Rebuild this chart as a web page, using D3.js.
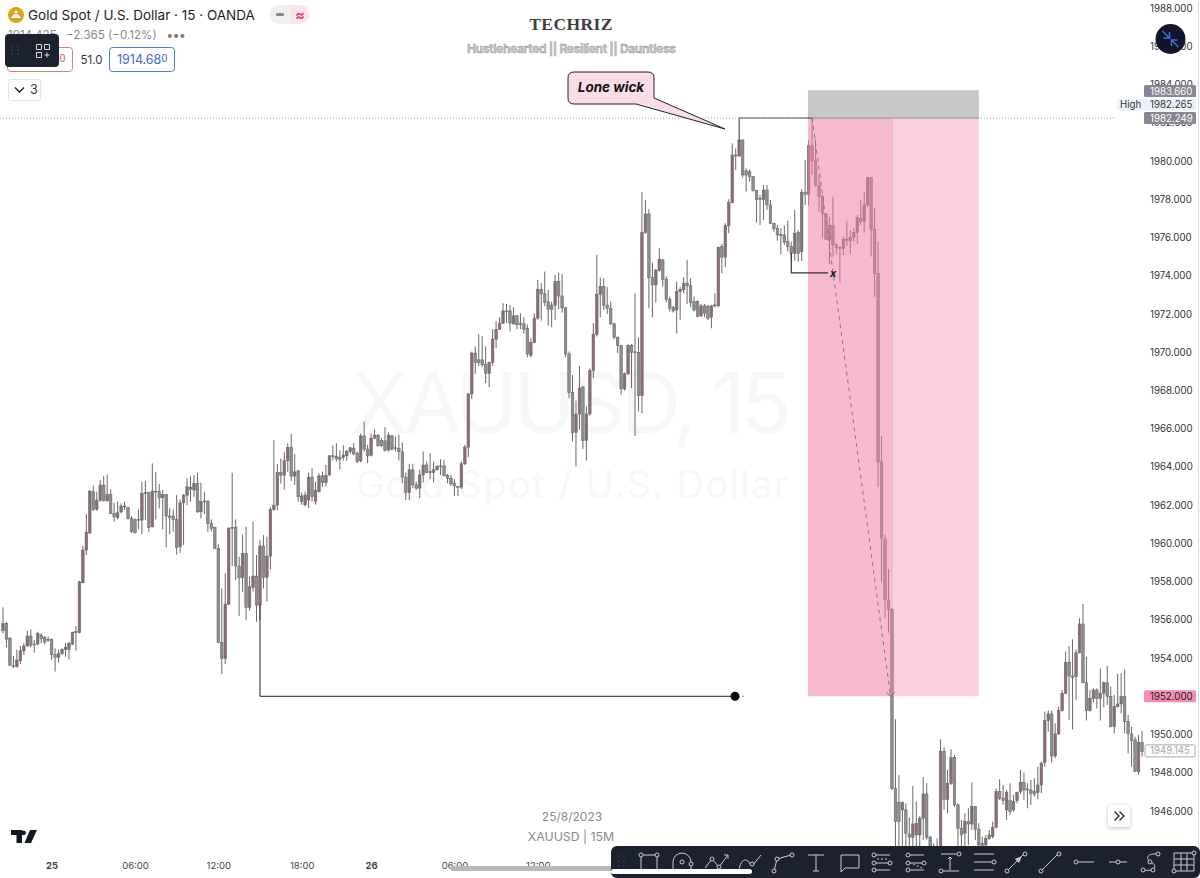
<!DOCTYPE html>
<html>
<head>
<meta charset="utf-8">
<title>XAUUSD 15M</title>
<script src="https://cdn.jsdelivr.net/npm/d3@7"></script>
<style>
  html, body { margin: 0; padding: 0; background: #fff; }
  svg { display: block; font-family: Inter, "Noto Sans", sans-serif; }
  .tick text { font-family: Inter, "Noto Sans", sans-serif; }
</style>
</head>
<body>
<div id="app"></div>
<script>
// open, high, low, close per 15 minute bar
const rallyOpen = [
  [1955.43,1956.65,1955.29,1955.81],[1955.81,1955.90,1954.56,1954.99],[1955.03,1955.12,1953.58,1953.63],[1953.60,1954.11,1953.48,1953.55],
  [1953.55,1954.45,1953.51,1953.90],[1953.86,1954.63,1953.69,1954.38],[1954.38,1954.77,1954.16,1954.63],[1954.63,1955.43,1954.59,1955.15],
  [1955.15,1955.50,1954.56,1954.68],[1954.73,1954.94,1954.28,1954.70],[1954.73,1955.38,1954.66,1955.29],[1955.20,1955.29,1954.77,1955.01],
  [1955.08,1955.15,1954.73,1954.84],[1954.98,1955.12,1954.85,1954.91],[1954.98,1955.03,1953.90,1954.18],[1954.18,1954.51,1953.29,1954.04],
  [1954.04,1954.45,1953.76,1954.24],[1954.24,1954.51,1954.16,1954.45],[1954.45,1954.80,1954.07,1954.56],[1954.45,1954.85,1953.93,1954.77],
  [1954.73,1955.38,1954.68,1955.34],[1955.38,1955.67,1954.38,1955.34],[1955.33,1958.03,1955.29,1957.99],[1957.94,1959.86,1957.91,1959.65],
  [1959.65,1961.53,1959.39,1960.59],[1960.55,1962.79,1960.48,1962.73],[1962.70,1963.01,1961.70,1961.77],[1961.79,1962.70,1961.70,1962.26],
  [1962.26,1963.31,1962.18,1963.05],[1963.05,1963.52,1962.18,1962.23],[1962.23,1963.60,1962.18,1962.56],[1962.56,1962.82,1961.53,1961.57],
  [1961.57,1962.12,1961.13,1961.39],[1961.36,1962.18,1961.25,1961.60],[1961.64,1962.09,1961.57,1961.95],[1961.95,1962.18,1961.74,1961.91],
  [1961.88,1961.91,1961.25,1961.29],[1961.30,1961.43,1960.55,1960.61],[1961.25,1961.30,1960.52,1960.55],[1961.22,1961.77,1960.73,1961.25],
  [1961.22,1963.22,1960.48,1962.61],[1962.61,1963.27,1961.22,1962.65],[1962.65,1962.70,1960.61,1960.83],[1960.87,1964.18,1960.83,1962.73],
  [1962.73,1963.74,1961.25,1962.70],[1962.70,1963.10,1961.83,1962.38],[1962.40,1962.79,1960.73,1962.56],[1962.56,1962.58,1959.79,1961.43],
  [1961.43,1961.83,1960.48,1961.36],[1961.43,1961.77,1960.61,1961.25],[1961.25,1962.52,1959.42,1959.79],[1959.82,1962.30,1959.51,1962.12],
  [1962.12,1962.58,1959.91,1962.52],[1962.52,1963.40,1962.00,1962.96],[1962.92,1963.52,1962.18,1962.82],[1962.79,1963.57,1962.44,1963.13],
  [1963.13,1963.69,1961.60,1961.65],[1961.65,1963.17,1961.30,1962.18],[1962.21,1962.70,1961.53,1962.18],[1962.21,1962.26,1960.61,1961.04],
  [1961.04,1961.25,1960.61,1960.78],[1960.83,1960.87,1959.70,1959.74],[1959.74,1959.96,1954.77,1954.82],[1954.82,1957.64,1953.16,1953.98],
  [1953.98,1958.43,1953.69,1956.82],[1956.82,1960.83,1956.77,1960.80],[1960.83,1963.69,1958.81,1960.78],[1960.83,1961.25,1958.08,1958.81],
  [1958.81,1959.30,1956.20,1958.20],[1958.22,1960.47,1957.47,1959.47],[1959.47,1960.87,1955.99,1956.65],[1956.65,1958.25,1956.48,1957.73],
  [1957.70,1961.13,1957.47,1958.29],[1958.29,1959.39,1955.90,1956.77],[1956.77,1960.17,1955.99,1959.86],[1959.86,1960.43,1957.64,1958.22],
  [1958.22,1960.35,1956.95,1959.33],[1959.33,1961.91,1958.64,1961.77],[1961.77,1965.41,1961.70,1962.00],[1962.00,1964.15,1961.74,1963.71],
  [1963.71,1964.44,1963.13,1963.57],[1963.57,1964.79,1962.82,1964.32],[1964.32,1965.23,1963.74,1965.02],[1965.02,1965.72,1963.27,1963.52],
  [1963.52,1964.67,1963.05,1963.74],[1963.80,1963.83,1962.18,1962.44]
];

const rallyMiddle = [
  [1962.19,1962.66,1962.02,1962.48],[1962.02,1962.71,1961.93,1962.53],[1962.27,1963.70,1961.84,1963.46],[1963.46,1963.93,1962.19,1962.45],
  [1962.19,1963.23,1962.02,1962.76],[1962.71,1963.67,1962.66,1963.53],[1963.53,1963.75,1962.94,1963.18],[1963.18,1964.10,1962.97,1963.55],
  [1963.58,1964.61,1963.53,1964.58],[1964.58,1965.12,1964.33,1964.54],[1964.54,1965.24,1964.28,1964.42],[1964.49,1964.86,1963.88,1964.40],
  [1964.51,1965.13,1964.33,1964.61],[1964.58,1964.89,1964.32,1964.80],[1964.80,1965.03,1964.68,1965.00],[1964.98,1965.24,1964.61,1964.68],
  [1964.72,1964.80,1964.19,1964.28],[1964.32,1965.76,1964.23,1965.62],[1965.62,1966.37,1964.80,1964.93],[1964.93,1965.15,1964.19,1964.58],
  [1964.61,1965.76,1964.54,1965.50],[1965.50,1965.97,1965.45,1965.66],[1965.66,1965.71,1965.07,1965.10],[1965.38,1965.50,1965.03,1965.12],
  [1965.36,1966.08,1964.80,1964.86],[1964.89,1965.80,1964.80,1965.66],[1965.62,1965.68,1964.86,1964.93],[1965.00,1965.59,1964.80,1964.96],
  [1964.96,1965.68,1964.33,1964.80],[1964.79,1965.27,1963.15,1963.46],[1963.46,1963.70,1962.27,1962.66],[1962.66,1964.16,1962.27,1963.85],
  [1963.85,1964.16,1962.89,1963.06],[1963.06,1963.23,1962.80,1962.89],[1962.89,1963.85,1962.36,1963.58],[1963.58,1964.80,1963.18,1964.10],
  [1964.10,1964.28,1963.67,1963.70],[1963.76,1964.72,1963.36,1963.70],[1963.70,1964.28,1963.18,1963.85],[1963.85,1964.10,1963.81,1964.02],
  [1964.05,1964.40,1963.58,1964.02],[1964.05,1964.37,1963.50,1963.53],[1963.56,1963.63,1963.15,1963.41],[1963.41,1963.58,1963.01,1963.11],
  [1963.15,1963.36,1962.48,1963.01],[1962.97,1962.97,1962.48,1962.94],[1962.94,1964.28,1962.84,1964.16],[1964.16,1965.15,1964.10,1965.03],
  [1965.03,1967.85,1964.51,1967.82],[1967.82,1970.03,1967.54,1969.95],[1969.95,1970.30,1968.87,1969.46],[1969.60,1970.94,1969.28,1969.46],
  [1969.60,1970.85,1969.21,1969.34],[1969.37,1970.30,1968.38,1968.90],[1968.90,1969.51,1968.17,1969.46],[1969.46,1971.20,1969.28,1970.68],
  [1970.68,1971.62,1970.21,1971.20],[1971.20,1971.83,1971.17,1971.52],[1971.52,1972.56,1971.48,1972.16],[1972.16,1972.53,1971.52,1972.13],
  [1972.16,1972.47,1971.08,1971.52],[1971.48,1972.35,1971.45,1971.90],[1971.90,1971.95,1971.20,1971.43],[1971.52,1972.04,1971.20,1971.45],
  [1971.48,1971.83,1970.96,1971.20],[1971.25,1971.45,1969.74,1969.91],[1969.84,1970.73,1969.74,1970.50],[1970.50,1972.04,1970.47,1971.78],
  [1971.78,1973.78,1971.69,1973.29],[1973.29,1973.61,1971.65,1973.05],[1973.05,1974.22,1972.42,1972.61],[1972.63,1973.26,1971.39,1972.25],
  [1972.46,1972.65,1971.31,1972.25],[1972.46,1974.04,1971.69,1973.69],[1973.69,1974.16,1972.25,1972.94]
];

const rallyTop = [
  [1972.94,1974.09,1972.07,1972.32],[1972.32,1972.35,1969.74,1969.91],[1969.91,1970.03,1967.59,1967.89],[1967.89,1968.81,1965.33,1965.81],
  [1965.81,1967.47,1964.02,1966.76],[1966.76,1969.28,1965.94,1968.12],[1968.17,1968.24,1964.93,1965.38],[1965.38,1967.16,1964.33,1966.77],
  [1966.77,1969.16,1966.67,1969.04],[1969.04,1971.52,1968.64,1970.94],[1970.94,1975.09,1970.82,1973.03],[1973.03,1973.90,1971.83,1973.43],
  [1973.43,1973.87,1972.21,1972.46],[1972.46,1973.40,1972.00,1972.30],[1972.30,1972.65,1971.43,1971.48],[1971.48,1971.55,1970.68,1970.78],
  [1970.78,1970.82,1969.95,1970.36],[1970.35,1970.38,1967.77,1968.08],[1968.08,1968.94,1967.99,1968.87],[1968.87,1970.43,1968.81,1970.35],
  [1970.35,1970.43,1968.12,1969.98],[1970.02,1973.08,1965.62,1969.98],[1969.98,1970.78,1966.90,1967.73],[1967.73,1978.38,1966.81,1976.26],
  [1976.26,1977.96,1976.19,1977.23],[1977.23,1977.48,1972.30,1973.90],[1973.90,1974.69,1971.83,1973.52],[1973.52,1974.34,1972.60,1974.30],
  [1974.27,1975.44,1974.22,1974.86],[1974.83,1974.86,1973.43,1973.82],[1973.82,1973.96,1972.60,1972.77],[1972.77,1972.91,1972.12,1972.30],
  [1972.35,1972.42,1972.07,1972.16],[1972.21,1973.69,1970.99,1973.17],[1973.17,1973.40,1971.69,1973.29],[1973.26,1973.92,1973.08,1973.61],
  [1973.61,1974.83,1972.53,1973.47],[1973.47,1973.87,1972.35,1972.60],[1972.65,1972.91,1972.12,1972.21],[1972.65,1972.70,1971.83,1971.86],
  [1971.90,1972.53,1971.83,1972.42],[1972.42,1972.53,1971.83,1972.04],[1972.39,1972.47,1971.69,1971.78],[1971.83,1972.46,1971.25,1972.42],
  [1972.42,1973.08,1972.35,1972.47],[1972.42,1975.52,1972.35,1975.49],[1975.52,1975.66,1974.13,1974.97],[1974.97,1976.74,1974.44,1976.62],
  [1976.62,1978.00,1976.22,1977.82]
];

const sweepAndDrop = [
  [1977.82,1980.92,1977.79,1980.31],[1980.31,1980.66,1979.53,1980.26],[1980.26,1981.10,1980.22,1981.10],[1981.10,1981.13,1979.14,1979.27],
  [1979.49,1979.62,1978.40,1979.27],[1979.44,1979.56,1978.92,1979.18],[1979.18,1979.21,1978.40,1978.45],[1978.45,1978.48,1976.77,1977.99],
  [1978.05,1978.22,1976.65,1977.99],[1977.99,1978.74,1976.91,1978.48],[1978.48,1978.74,1977.44,1977.70],[1977.70,1977.96,1976.70,1976.74],
  [1976.74,1976.77,1976.30,1976.48],[1976.48,1976.65,1975.83,1976.13],[1976.15,1976.48,1975.12,1976.11],[1976.13,1976.62,1975.61,1975.76],
  [1975.78,1976.88,1975.26,1975.52],[1975.52,1975.78,1974.82,1975.17],[1975.17,1977.44,1974.79,1976.22],[1976.25,1976.39,1974.73,1975.17],
  [1975.26,1978.52,1974.77,1978.36],[1978.36,1980.05,1977.70,1978.26],[1978.26,1981.10,1977.65,1980.80],[1980.80,1982.25,1979.27,1980.00],
  [1980.00,1981.18,1978.66,1978.71],[1978.71,1979.27,1977.35,1978.13],[1978.13,1978.22,1975.96,1977.23],[1977.23,1977.26,1975.87,1975.90],
  [1975.87,1977.09,1974.61,1976.62],[1976.62,1978.13,1975.00,1975.61],[1975.61,1975.69,1975.14,1975.48],[1975.48,1975.52,1973.64,1975.43],
  [1975.43,1976.04,1975.08,1975.90],[1975.90,1976.88,1975.55,1975.87],[1975.82,1976.39,1975.12,1976.01],[1976.01,1976.48,1975.78,1976.25],
  [1976.25,1977.17,1975.66,1977.04],[1977.00,1977.96,1976.65,1976.83],[1976.83,1978.38,1976.25,1977.70],[1977.70,1979.14,1977.61,1979.14],
  [1979.14,1979.14,1975.00,1976.43],[1976.43,1977.56,1972.89,1974.12],[1974.12,1975.78,1962.95,1964.26],[1964.26,1965.62,1957.98,1960.28],
  [1960.23,1960.44,1956.10,1957.04],[1957.04,1958.66,1955.33,1956.55],[1956.55,1956.60,1947.10,1947.17]
];

const afterDrop = [
  [1947.17,1950.80,1943.62,1945.45],[1946.44,1947.87,1943.70,1945.45],[1946.06,1946.49,1943.79,1946.44],[1946.06,1946.40,1943.79,1944.84],
  [1944.80,1945.67,1943.79,1944.63],[1944.63,1947.31,1943.79,1945.32],[1944.75,1946.49,1943.79,1945.36],[1944.75,1945.74,1943.79,1945.62],
  [1945.62,1947.76,1944.49,1946.89],[1946.89,1947.45,1944.49,1944.63],[1944.63,1944.70,1942.40,1944.14],[1944.14,1944.31,1942.40,1943.27],
  [1944.14,1944.57,1942.40,1943.27],[1944.14,1949.75,1942.40,1949.11],[1949.11,1949.33,1946.06,1946.61],[1946.61,1948.15,1945.88,1947.45],
  [1947.45,1949.23,1947.36,1948.79],[1948.79,1948.93,1946.23,1946.32],[1946.32,1946.40,1944.14,1945.10],[1945.10,1945.53,1944.14,1944.75],
  [1944.84,1945.88,1944.14,1945.45],[1945.45,1946.14,1944.23,1945.32],[1945.32,1947.49,1945.01,1946.23],[1946.23,1946.23,1944.49,1945.05],
  [1945.05,1945.36,1943.79,1944.23],[1944.31,1944.66,1943.79,1944.05],[1944.23,1944.75,1943.79,1944.57],[1944.57,1945.01,1944.49,1944.75],
  [1944.66,1945.45,1944.57,1945.15],[1945.15,1947.19,1945.10,1947.01],[1947.01,1947.66,1946.58,1946.67],[1946.67,1947.36,1946.32,1946.54],
  [1946.06,1947.10,1945.53,1946.96],[1946.54,1947.45,1945.79,1945.97],[1946.06,1946.84,1945.97,1946.49],[1946.54,1947.01,1946.40,1946.96],
  [1947.01,1948.15,1946.89,1947.49],[1947.49,1948.01,1946.58,1947.10],[1947.15,1947.45,1946.14,1947.10],[1947.10,1947.62,1946.32,1946.93],
  [1947.01,1947.71,1946.75,1946.89],[1946.98,1948.32,1946.61,1947.36],[1947.36,1948.58,1946.93,1948.50],[1948.53,1951.20,1948.32,1950.73]
];

const recovery = [
  [1950.73,1951.25,1950.15,1951.08],[1951.08,1951.25,1948.53,1948.88],[1948.88,1950.59,1948.76,1950.03],[1950.03,1951.46,1949.98,1951.25],
  [1951.25,1952.33,1951.20,1952.16],[1952.16,1954.34,1952.12,1953.78],[1953.78,1954.63,1950.76,1953.06],[1953.06,1954.98,1950.27,1952.99],
  [1953.03,1954.46,1951.81,1954.28],[1954.28,1956.08,1954.25,1955.78],[1955.78,1956.83,1952.68,1952.71],[1952.71,1954.07,1950.73,1951.25],
  [1951.25,1952.33,1951.20,1951.89],[1951.89,1952.42,1951.67,1952.33],[1952.33,1952.42,1951.37,1951.89],[1951.89,1953.46,1950.73,1952.16],
  [1952.16,1952.77,1951.42,1952.71],[1952.71,1953.59,1951.55,1951.98],[1951.98,1952.51,1950.38,1950.41],[1950.41,1952.07,1950.06,1951.46],
  [1951.46,1953.17,1951.42,1951.60],[1951.60,1953.20,1951.11,1951.98],[1951.98,1953.41,1950.06,1950.68],[1950.68,1951.02,1949.02,1950.06],
  [1950.03,1950.41,1948.32,1949.68],[1949.72,1949.89,1948.06,1948.06],[1948.06,1949.98,1947.89,1949.58],[1949.58,1950.20,1948.85,1949.11]
];

// axis ticks
const priceTicks = [1946,1948,1950,1952,1954,1956,1958,1960,1962,1964,1966,1968,1970,1972,1974,1976,1978,1980,1982,1984,1986,1988];
const timeTickBars = [14,38,62,86,106,130,154];
const timeTickLabels = ['25','06:00','12:00','18:00','26','06:00','12:00'];

// drawing levels and anchors (bar index / price)
const zonePrices = [1983.66,1982.249,1952];
const zoneBars = [231.8,256.3,281];
const sweepBars = [212,233];
const breakLevel = [227,237.6,1974.15];
const targetLine = [74,210.8,1952];
const priceTags = [
  {price:1983.66, text:'1983.660', kind:'grey'},
  {price:1982.265, text:'1982.265', kind:'high'},
  {price:1982.249, text:'1982.249', kind:'grey'},
  {price:1952, text:'1952.000', kind:'pink'},
  {price:1949.145, text:'1949.145', kind:'last'}
];

const width = 1200, height = 878;
const bars = d3.merge([rallyOpen, rallyMiddle, rallyTop, sweepAndDrop, afterDrop, recovery]);

const x = d3.scaleLinear()
    .domain([0, 328])
    .range([3, 1142]);

const y = d3.scaleLinear()
    .domain([1946, 1980])
    .range([811, 161]);

const svg = d3.select('#app').append('svg')
    .attr('width', width)
    .attr('height', height);

const darkBar = '#1c2130';
const upFill = '#8d6a7a', downFill = '#8f8f90', wick = '#68686a';

// watermark
svg.append('text')
    .attr('x', 351).attr('y', 433)
    .attr('textLength', 441)
    .attr('font-size', 84)
    .attr('fill', '#f7f7f7')
    .text('XAUUSD, 15');
svg.append('text')
    .attr('x', 356).attr('y', 498)
    .attr('textLength', 432)
    .attr('font-size', 38)
    .attr('fill', '#f7f7f7')
    .text('Gold Spot / U.S. Dollar');

// title
svg.append('text')
    .attr('x', 571).attr('y', 30)
    .attr('text-anchor', 'middle')
    .attr('font-family', '"Liberation Serif", serif')
    .attr('font-weight', 700)
    .attr('font-size', 17.5)
    .attr('letter-spacing', 0.4)
    .attr('fill', '#3e3e3e')
    .text('TECHRIZ');
svg.append('text')
    .attr('x', 467).attr('y', 53)
    .attr('textLength', 209)
    .attr('font-weight', 700)
    .attr('font-size', 12)
    .attr('fill', '#c4c4c4')
    .attr('stroke', '#8e8e8e')
    .attr('stroke-width', 0.35)
    .text('Hustlehearted || Resilient || Dauntless');

// price axis
const yAxis = d3.axisRight(y)
    .tickValues(priceTicks)
    .tickSize(0)
    .tickPadding(0)
    .tickFormat(d3.format('.3f'));

svg.append('g')
    .attr('class', 'y axis')
    .attr('transform', 'translate(1150,0)')
    .call(yAxis)
    .call(g => g.select('.domain').remove())
    .selectAll('text')
    .attr('font-size', 9.7)
    .attr('fill', '#333');

// time axis
const xAxis = d3.axisBottom(x)
    .tickValues(timeTickBars)
    .tickSize(0)
    .tickPadding(0)
    .tickFormat((d, i) => timeTickLabels[i]);

svg.append('g')
    .attr('class', 'x axis')
    .attr('transform', 'translate(0,862)')
    .call(xAxis)
    .call(g => g.select('.domain').remove())
    .selectAll('text')
    .attr('font-size', 9.5)
    .attr('font-weight', d => d === 14 || d === 106 ? 700 : 400)
    .attr('fill', '#444');

// candles
const candle = svg.append('g').attr('class', 'candles')
    .selectAll('g')
    .data(bars)
  .enter().append('g');

candle.append('line')
    .attr('x1', (d, i) => x(i))
    .attr('x2', (d, i) => x(i))
    .attr('y1', d => y(d[1]))
    .attr('y2', d => y(d[2]))
    .attr('stroke', wick)
    .attr('stroke-width', 1);

candle.append('rect')
    .attr('x', (d, i) => x(i) - 1.25)
    .attr('width', 2.5)
    .attr('y', d => y(Math.max(d[0], d[3])))
    .attr('height', d => Math.max(0.8, Math.abs(y(d[0]) - y(d[3]))))
    .attr('fill', d => d[3] >= d[0] ? upFill : downFill)
    .attr('stroke', wick)
    .attr('stroke-width', 0.6);

// short position tool
const [zoneLeft, zoneMid, zoneRight] = zoneBars.map(x);
const [stopY, entryY, targetY] = zonePrices.map(y);

svg.append('line')
    .attr('x1', 0).attr('x2', 1116)
    .attr('y1', entryY).attr('y2', entryY)
    .attr('stroke', '#9a9a9a')
    .attr('stroke-dasharray', '1,2');

svg.append('rect')
    .attr('x', zoneLeft).attr('y', stopY)
    .attr('width', zoneRight - zoneLeft).attr('height', entryY - stopY)
    .attr('fill', '#c8c8cb');
svg.append('rect')
    .attr('x', zoneLeft).attr('y', entryY)
    .attr('width', zoneMid - zoneLeft).attr('height', targetY - entryY)
    .attr('fill', 'rgba(239,128,168,0.55)');
svg.append('rect')
    .attr('x', zoneMid).attr('y', entryY)
    .attr('width', zoneRight - zoneMid).attr('height', targetY - entryY)
    .attr('fill', 'rgba(240,120,164,0.35)');
svg.append('line')
    .attr('x1', zoneLeft).attr('x2', zoneRight)
    .attr('y1', entryY).attr('y2', entryY)
    .attr('stroke', '#a6a6aa').attr('stroke-width', 1.5);
svg.append('line')
    .attr('x1', zoneLeft).attr('x2', zoneRight)
    .attr('y1', stopY).attr('y2', stopY)
    .attr('stroke', '#b4b4b8');

// dashed path to target
svg.append('line')
    .attr('x1', x(sweepBars[1])).attr('y1', entryY)
    .attr('x2', x(255.6)).attr('y2', targetY)
    .attr('stroke', '#8a7680')
    .attr('stroke-dasharray', '4,4');
svg.append('path')
    .attr('transform', `translate(${x(255.6)},${targetY})`)
    .attr('d', 'M-4,-4L0,0L4,-4')
    .attr('fill', 'none')
    .attr('stroke', '#76606a');

// lone wick marker
svg.append('path')
    .attr('d', `M${x(sweepBars[0])},${y(1981.0)}V${entryY}H${x(sweepBars[1])}`)
    .attr('fill', 'none')
    .attr('stroke', '#555')
    .attr('stroke-width', 1.2);

// break of structure
const breakY = y(breakLevel[2]);
svg.append('path')
    .attr('d', `M${x(breakLevel[0])},${y(1975.2)}V${breakY}H${x(breakLevel[1])}`)
    .attr('fill', 'none')
    .attr('stroke', '#333')
    .attr('stroke-width', 1.2);
svg.append('text')
    .attr('x', x(breakLevel[1]) + 2).attr('y', breakY + 4)
    .attr('font-weight', 700).attr('font-style', 'italic').attr('font-size', 11)
    .attr('fill', '#111')
    .text('x');

// target line
svg.append('path')
    .attr('d', `M${x(targetLine[0])},${y(1956.8)}V${y(targetLine[2])}H${x(targetLine[1])}`)
    .attr('fill', 'none')
    .attr('stroke', '#222')
    .attr('stroke-width', 1);
svg.append('circle')
    .attr('cx', x(targetLine[1])).attr('cy', y(targetLine[2]))
    .attr('r', 4.5).attr('fill', '#0a0a0a');
svg.append('circle')
    .attr('cx', x(targetLine[1]) + 8).attr('cy', y(targetLine[2]))
    .attr('r', 0.7).attr('fill', '#666');

// callout
svg.append('path')
    .attr('d', 'M574,72H648Q654,72 654,78V98L725,129L636,104H574Q568,104 568,98V78Q568,72 574,72Z')
    .attr('fill', '#fbdde7')
    .attr('stroke', '#222')
    .attr('stroke-width', 1);
svg.append('text')
    .attr('x', 611).attr('y', 92)
    .attr('text-anchor', 'middle')
    .attr('font-weight', 700).attr('font-style', 'italic').attr('font-size', 13.5)
    .attr('fill', '#111')
    .text('Lone wick');

// price tags, the High row is pushed up so it clears the entry tag like the platform does
const tagStyle = {
  grey: {x: 1144, w: 52, fill: '#878791', text: '#fff', stroke: 'none', shift: 0},
  high: {x: 1117, w: 79, fill: '#e9f2fb', text: '#333', stroke: 'none', shift: -13},
  pink: {x: 1144, w: 52, fill: '#f48fb1', text: '#222', stroke: 'none', shift: 0},
  last: {x: 1145, w: 50, fill: '#fff', text: '#a8a8a8', stroke: '#a8a8a8', shift: 0}
};
const tag = svg.append('g').attr('class', 'tags')
    .selectAll('g')
    .data(priceTags)
  .enter().append('g')
    .attr('transform', d => `translate(0,${y(d.price) + tagStyle[d.kind].shift})`);
tag.append('rect')
    .attr('x', d => tagStyle[d.kind].x)
    .attr('y', -6)
    .attr('width', d => tagStyle[d.kind].w)
    .attr('height', 12)
    .attr('rx', 1.5)
    .attr('fill', d => tagStyle[d.kind].fill)
    .attr('stroke', d => tagStyle[d.kind].stroke);
tag.append('text')
    .attr('x', 1150)
    .attr('y', 3.5)
    .attr('font-size', 9.7)
    .attr('fill', d => tagStyle[d.kind].text)
    .text(d => d.text);
tag.filter(d => d.kind === 'high').append('text')
    .attr('x', 1120)
    .attr('y', 3.5)
    .attr('font-size', 9.7)
    .attr('fill', '#333')
    .text('High');

// legend header
const gold = svg.append('g').attr('transform', 'translate(16,15)');
gold.append('circle').attr('r', 8).attr('fill', '#dfa21b');
gold.append('path').attr('d', 'M-5,3L-2,-1H2L5,3ZM-2,-2L0,-5L2,-2Z').attr('fill', '#fff');

svg.append('text')
    .attr('x', 28).attr('y', 20)
    .attr('font-size', 13.5)
    .attr('fill', '#1b1b1d')
    .text('Gold Spot / U.S. Dollar · 15 · OANDA');
svg.append('text')
    .attr('x', 8).attr('y', 39)
    .attr('font-size', 11.6)
    .attr('fill', '#8a8a8e')
    .text('1914.425');
svg.append('text')
    .attr('x', 66).attr('y', 39)
    .attr('font-size', 11.6)
    .attr('fill', '#8a8a8e')
    .text('−2.365 (−0.12%)');
svg.append('text')
    .attr('x', 167).attr('y', 39)
    .attr('font-size', 12)
    .attr('font-weight', 700)
    .attr('letter-spacing', 0.5)
    .attr('fill', '#777')
    .text('•••');

// pill with the - and wave glyphs
svg.append('path')
    .attr('d', 'M279,5H290V24H279A9.5,9.5 0 0 1 279,5Z')
    .attr('fill', '#efeff1');
svg.append('path')
    .attr('d', 'M290,5H300A9.5,9.5 0 0 1 300,24H290Z')
    .attr('fill', '#fbe3ec');
svg.append('rect')
    .attr('x', 276).attr('y', 13).attr('width', 8).attr('height', 3).attr('rx', 1)
    .attr('fill', '#8c8c90');
svg.append('text')
    .attr('x', 300).attr('y', 20)
    .attr('text-anchor', 'middle')
    .attr('font-weight', 700).attr('font-size', 14)
    .attr('fill', '#e0406f')
    .text('≈');

// order boxes
svg.append('rect')
    .attr('x', 7.5).attr('y', 47.5).attr('width', 65).attr('height', 24).attr('rx', 3)
    .attr('fill', '#fff').attr('stroke', '#e4788f');
const sell = svg.append('text').attr('x', 15).attr('y', 64).attr('font-size', 12.5).attr('fill', '#d9536f');
sell.append('tspan').text('1914.63');
sell.append('tspan').attr('dy', -2).attr('font-size', 10).text('0');
svg.append('text')
    .attr('x', 80.5).attr('y', 64)
    .attr('font-size', 11.5)
    .attr('fill', '#333')
    .text('51.0');
svg.append('rect')
    .attr('x', 109.5).attr('y', 47.5).attr('width', 65).attr('height', 24).attr('rx', 3)
    .attr('fill', '#fff').attr('stroke', '#4f77dc');
const buy = svg.append('text').attr('x', 117).attr('y', 64).attr('font-size', 12.5).attr('fill', '#3f69d4');
buy.append('tspan').text('1914.68');
buy.append('tspan').attr('dy', -2).attr('font-size', 10).text('0');

svg.append('rect')
    .attr('x', 8.5).attr('y', 79.5).attr('width', 32).attr('height', 21).attr('rx', 2)
    .attr('fill', '#fff').attr('stroke', '#e2e2e4');
svg.append('path')
    .attr('d', 'M15,87.5L19.5,92L24,87.5')
    .attr('fill', 'none').attr('stroke', '#222').attr('stroke-width', 1.4);
svg.append('text')
    .attr('x', 30).attr('y', 94)
    .attr('font-size', 12.5)
    .attr('fill', '#333')
    .text('3');

// floating widget over the legend
const widget = svg.append('g');
widget.append('rect')
    .attr('x', 5).attr('y', 34).attr('width', 54).attr('height', 33).attr('rx', 4)
    .attr('fill', darkBar);
widget.selectAll('circle')
    .data(d3.cross([12, 18], [46, 50, 54]))
  .enter().append('circle')
    .attr('cx', d => d[0]).attr('cy', d => d[1])
    .attr('r', 0.7).attr('fill', '#4b5060');
widget.append('path')
    .attr('d', 'M36.5,44.5h5v5h-5zM44.5,44.5h5v5h-5zM36.5,52.5h5v5h-5zM44.5,55h5M47,52.5v5')
    .attr('fill', 'none').attr('stroke', '#d8dae0');

// collapse button, top right
const collapse = svg.append('g').attr('transform', 'translate(1170.5,39)');
collapse.append('circle').attr('r', 15).attr('fill', '#12152a');
collapse.append('path')
    .attr('d', 'M-8,-8L-1,-1M-1,-7V-1H-7M8,8L1,1M1,7V1H7')
    .attr('fill', 'none').attr('stroke', '#3f6fe0').attr('stroke-width', 1.5);

// date and symbol footnote
svg.append('text')
    .attr('x', 572).attr('y', 820.5)
    .attr('text-anchor', 'middle')
    .attr('font-size', 12)
    .attr('fill', '#8a8a8a')
    .text('25/8/2023');
svg.append('text')
    .attr('x', 571).attr('y', 841)
    .attr('text-anchor', 'middle')
    .attr('font-size', 12.3)
    .attr('fill', '#8a8a8a')
    .text('XAUUSD | 15M');

// TradingView mark
svg.append('path')
    .attr('transform', 'translate(11,830)')
    .attr('d', 'M0,0H11V13H5.5V5H0ZM19,0H26L20,13H13.5Z')
    .attr('fill', '#131722');
svg.append('circle').attr('cx', 23.5).attr('cy', 832.8).attr('r', 2.4).attr('fill', '#131722');

// scroll-to-latest button
svg.append('rect')
    .attr('x', 1108).attr('y', 805).attr('width', 22).attr('height', 22).attr('rx', 4)
    .attr('fill', '#fff')
    .style('filter', 'drop-shadow(0 1px 2px rgba(0,0,0,0.25))');
svg.append('path')
    .attr('d', 'M1114.5,811.5L1119,816L1114.5,820.5M1119.5,811.5L1124,816L1119.5,820.5')
    .attr('fill', 'none').attr('stroke', '#222').attr('stroke-width', 1.3);

// drawing toolbar
svg.append('rect')
    .attr('x', 450).attr('y', 866).attr('width', 165).attr('height', 5).attr('rx', 2.5)
    .attr('fill', '#b9b9bb');
svg.append('rect')
    .attr('x', 611).attr('y', 846).attr('width', 589).attr('height', 32).attr('rx', 6)
    .attr('fill', darkBar);
svg.append('g')
    .selectAll('circle')
    .data(d3.cross([619, 624], [856, 861, 866]))
  .enter().append('circle')
    .attr('cx', d => d[0]).attr('cy', d => d[1])
    .attr('r', 0.7).attr('fill', '#4b5060');

const toolIcons = [
  {x: 649, d: 'M-8,-7H8M-8,-7V9M8,-7V9', dots: [[-8,-7],[8,-7]]},
  {x: 682, d: 'M-9,0A9,9 0 1 1 9,0M-9,0V9M9,0V9', dots: [[0,0],[9,2]]},
  {x: 716, d: 'M-11,6L-4,-3L3,5L12,-7M8,-7H12V-3', dots: [[-4,-3],[3,5]]},
  {x: 750, d: 'M-11,9C-10,-3 -3,-5 0,2L3,3L11,-7', dots: [[2,2]]},
  {x: 783, d: 'M-9,9L-6,-3L8,-7', dots: [[-9,9],[-6,-3],[9,-7]]},
  {x: 816, d: 'M-8,-7H8M0,-7V9M-3,9H3', dots: []},
  {x: 850, d: 'M-9,-7H9V6H-5L-9,10Z', dots: []},
  {x: 882, d: 'M-8,-7H8M-8,1H8M-8,8H8', dots: [[-8,-7],[-8,1],[-8,8],[8,1]], dash: 'M-5,-3L6,-3'},
  {x: 916, d: 'M-6,-7H8M-6,1H8M-6,8H8', dots: [[-8,-7],[-8,1],[-8,8],[8,1]], dash: 'M-3,2L6,6'},
  {x: 950, d: 'M-9,-8H7M-9,9H9M0,-5V8M-2,-3L0,-5L2,-3', dots: [[9,-8],[-9,9]]},
  {x: 984, d: 'M-10,-8H10M-10,0H8M-10,8H10', dots: [[10,0]]},
  {x: 1016, d: 'M-8,8L8,-8', dots: [[-9,9],[9,-8]], fill: 'M-1,-3L6,-6L3,1Z'},
  {x: 1050, d: 'M-8,8L8,-8', dots: [[-9,9],[9,-8]]},
  {x: 1084, d: 'M-6,0H10', dots: [[-8,0]]},
  {x: 1118, d: 'M-9,0H9', dots: [[0,0]]},
  {x: 1151, d: 'M-8,8C6,10 6,3 0,0C-6,-3 -4,-9 6,-8', dots: [[-8,8],[2,8],[-1,0],[7,-8]]},
  {x: 1184, d: 'M-10,-9H10V9H-10ZM-10,-3H10M-10,3H10M-3,-9V9M3,-9V9', dots: [[10,-9],[-10,9]]}
];

const tool = svg.append('g').attr('class', 'tools')
    .selectAll('g')
    .data(toolIcons)
  .enter().append('g')
    .attr('transform', d => `translate(${d.x},862)`);
tool.append('path')
    .attr('d', d => d.d)
    .attr('fill', 'none')
    .attr('stroke', '#c9ccd3');
tool.filter(d => d.dash).append('path')
    .attr('d', d => d.dash)
    .attr('fill', 'none')
    .attr('stroke', '#c9ccd3')
    .attr('stroke-dasharray', '2,2');
tool.filter(d => d.fill).append('path')
    .attr('d', d => d.fill)
    .attr('fill', '#c9ccd3');
tool.selectAll('circle')
    .data(d => d.dots)
  .enter().append('circle')
    .attr('cx', d => d[0]).attr('cy', d => d[1])
    .attr('r', 2)
    .attr('fill', darkBar)
    .attr('stroke', '#c9ccd3');

// scroll indicator
svg.append('rect')
    .attr('x', 611).attr('y', 869).attr('width', 141).attr('height', 5).attr('rx', 2.5)
    .attr('fill', '#fff');

// screenshot edge
svg.append('line')
    .attr('x1', 1198.5).attr('x2', 1198.5)
    .attr('y1', 0).attr('y2', 846)
    .attr('stroke', '#dcdcdc');
</script>
</body>
</html>
